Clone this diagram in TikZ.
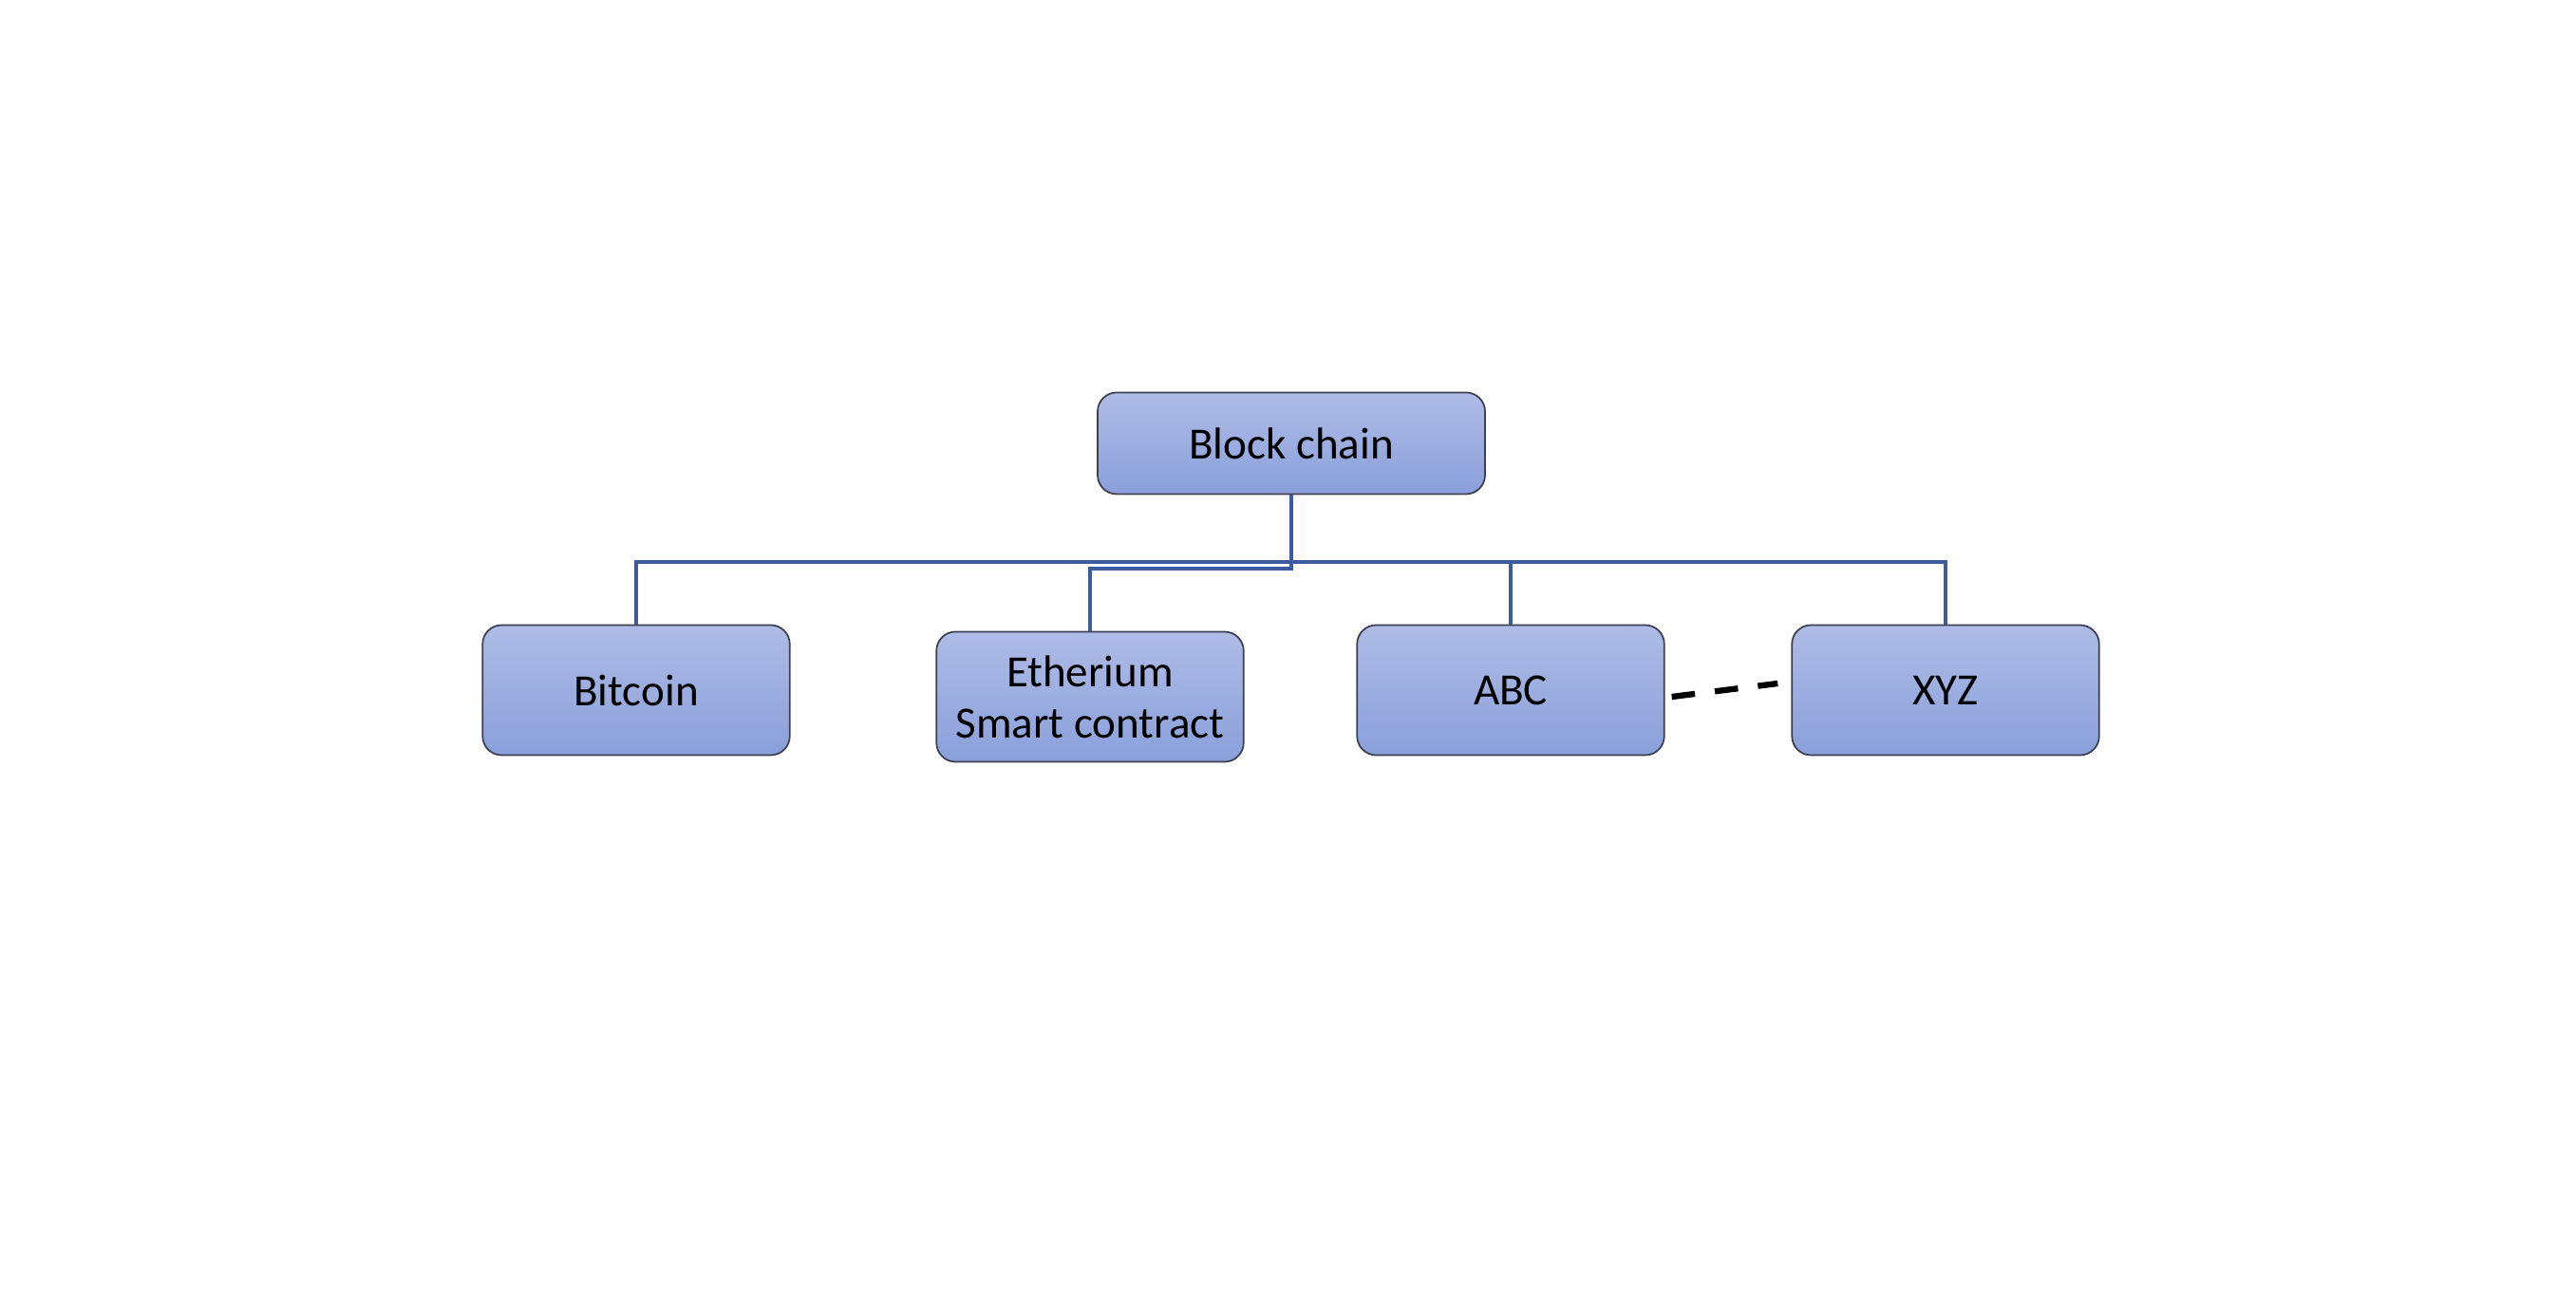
\documentclass[tikz,border=0pt]{standalone}
\usepackage{fontspec}
\setmainfont{Carlito}
\usepackage{xcolor}
\usetikzlibrary{positioning}
\definecolor{boxtop}{RGB}{174,187,230}
\definecolor{boxbottom}{RGB}{138,160,219}
\definecolor{boxedge}{RGB}{60,64,80}
\definecolor{linkblue}{RGB}{59,92,158}

\begin{document}
\begin{tikzpicture}[font=\fontsize{13.4}{15.4}\selectfont,
    chainbox/.style={draw=boxedge, line width=0.5pt, rounded corners=0.2cm,
      top color=boxtop, bottom color=boxbottom, align=center,
      minimum width=3.235cm, minimum height=1.37cm, inner sep=0pt},
    link/.style={draw=linkblue, line width=0.9pt},
    dots/.style={line width=1.8pt, dash pattern=on 7pt off 6pt}]
  \useasboundingbox (0,0) rectangle (27.13,13.80);

  % Knoten oben
  \node[chainbox, minimum width=4.08cm, minimum height=1.07cm] (top) at (13.60,9.13) {Block chain};

  % Knoten unten
  \foreach \n/\x/\y/\txt in {Bitcoin/6.70/6.53/Bitcoin, Eth/11.48/6.46/{Etherium\\Smart contract}, ABC/15.91/6.53/ABC, XYZ/20.49/6.53/XYZ} {
    \node[chainbox] (\n) at (\x,\y) {\txt};
  }

  % Verbindungen
  \coordinate (bus) at (0,7.88);
  \coordinate (eth) at (0,7.81);
  \draw[link] (Bitcoin.north) |- (XYZ.north |- bus) -- (XYZ.north);
  \draw[link] (ABC.north) -- (ABC.north |- bus);
  \draw[link] (top.south) -- (top.south |- eth) -| (Eth.north);

  % Striche zwischen ABC und XYZ
  \draw[dots] ([xshift=2pt,yshift=-2pt]ABC.east) -- ([xshift=-4pt,yshift=2pt]XYZ.west);
\end{tikzpicture}
\end{document}
